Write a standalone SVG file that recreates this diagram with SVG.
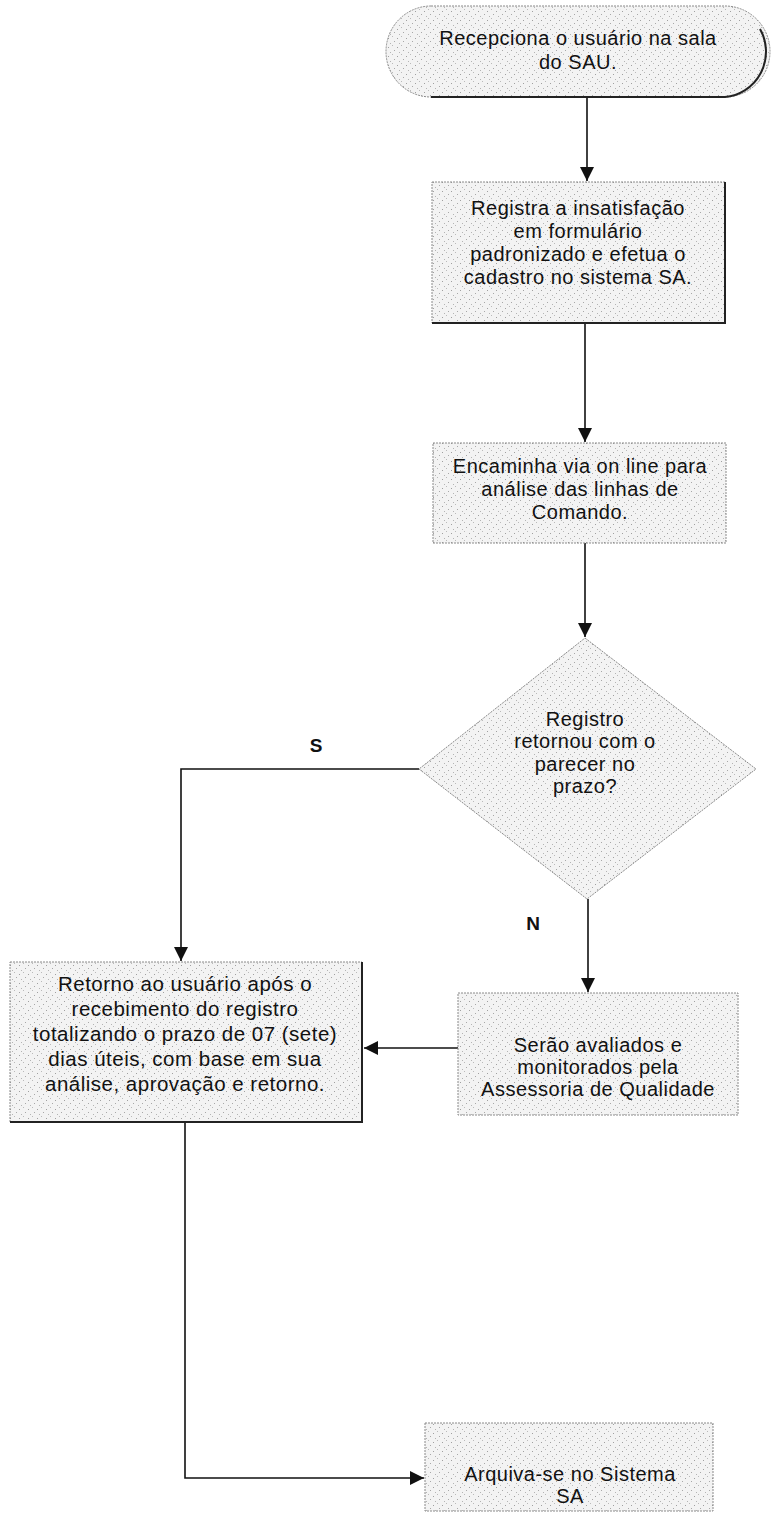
<svg xmlns="http://www.w3.org/2000/svg" width="773" height="1515" viewBox="0 0 773 1515">
<style>
.shape{fill:url(#stip);stroke:#8a8a8a;stroke-width:1;stroke-dasharray:2 1}
.shadow{fill:none;stroke:#222;stroke-width:2}
.t{font-family:"Liberation Sans",Arial,sans-serif;font-size:20px;fill:#111;text-anchor:middle;letter-spacing:0.5px}
.tl{font-size:20.5px}
.lbl{font-family:"Liberation Sans",Arial,sans-serif;font-size:19px;font-weight:bold;fill:#111;text-anchor:middle}
.c{fill:none;stroke:#111;stroke-width:1.6}
</style>
<defs>
<pattern id="stip" patternUnits="userSpaceOnUse" width="9" height="9">
<rect width="9" height="9" fill="#f3f3f3"/>
<rect x="1" y="2" width="1" height="1" fill="#a0a0a0"/>
<rect x="5" y="0" width="1" height="1" fill="#bababa"/>
<rect x="7" y="5" width="1" height="1" fill="#a8a8a8"/>
<rect x="3" y="7" width="1" height="1" fill="#b4b4b4"/>
</pattern>
<marker id="ah" markerUnits="userSpaceOnUse" markerWidth="15" markerHeight="14" refX="14" refY="7" orient="auto">
<path d="M0,0 L14,7 L0,14 z" fill="#111"/>
</marker>
</defs>
<rect width="773" height="1515" fill="#fff"/>
<g id="connectors">
<path class="c" d="M587,98 V181" marker-end="url(#ah)"/>
<path class="c" d="M585,323 V442" marker-end="url(#ah)"/>
<path class="c" d="M585,543 V637" marker-end="url(#ah)"/>
<path class="c" d="M419,769 H181 V961" marker-end="url(#ah)"/>
<path class="c" d="M588,899 V992" marker-end="url(#ah)"/>
<path class="c" d="M458,1048 H364" marker-end="url(#ah)"/>
<path class="c" d="M185,1122 V1478 H424" marker-end="url(#ah)"/>
<text class="lbl" x="316" y="752">S</text>
<text class="lbl" x="533" y="930">N</text>
</g>
<g id="start">
<path class="shape" d="M431,6 H725 A45,45.5 0 0 1 725,97 H431 A45,45.5 0 0 1 431,6 Z"/>
<path class="shadow" d="M760,29 A45,45.5 0 0 1 725,97 H431"/>
<text class="t" x="578" y="45">Recepciona o usuário na sala</text>
<text class="t" x="578" y="69">do SAU.</text>
</g>
<g id="registra">
<rect class="shape" x="432" y="182" width="293" height="141"/>
<path class="shadow" d="M725,182 V323 H432"/>
<text class="t" x="578" y="215">Registra a insatisfação</text>
<text class="t" x="578" y="238">em formulário</text>
<text class="t" x="578" y="261">padronizado e efetua o</text>
<text class="t" x="578" y="284">cadastro no sistema SA.</text>
</g>
<g id="encaminha">
<rect class="shape" x="433" y="443" width="293" height="100"/>
<text class="t" x="580" y="473">Encaminha via on line para</text>
<text class="t" x="580" y="496">análise das linhas de</text>
<text class="t" x="580" y="519">Comando.</text>
</g>
<g id="decisao">
<polygon class="shape" points="585,638 756,769 587,899 419,769"/>
<text class="t" x="585" y="726">Registro</text>
<text class="t" x="585" y="748">retornou com o</text>
<text class="t" x="585" y="771">parecer no</text>
<text class="t" x="585" y="793">prazo?</text>
</g>
<g id="retorno">
<rect class="shape" x="10" y="962" width="352" height="160"/>
<path class="shadow" d="M362,962 V1122 H10"/>
<text class="t tl" x="185" y="991">Retorno ao usuário após o</text>
<text class="t tl" x="185" y="1016">recebimento do registro</text>
<text class="t tl" x="185" y="1041">totalizando o prazo de 07 (sete)</text>
<text class="t tl" x="185" y="1066">dias úteis, com base em sua</text>
<text class="t tl" x="185" y="1091">análise, aprovação e retorno.</text>
</g>
<g id="avaliados">
<rect class="shape" x="458" y="993" width="280" height="122"/>
<text class="t" x="598" y="1052">Serão avaliados e</text>
<text class="t" x="598" y="1074">monitorados pela</text>
<text class="t" x="598" y="1096">Assessoria de Qualidade</text>
</g>
<g id="arquiva">
<rect class="shape" x="425" y="1423" width="288" height="88"/>
<text class="t" x="570" y="1481">Arquiva-se no Sistema</text>
<text class="t" x="570" y="1503">SA</text>
</g>
</svg>
